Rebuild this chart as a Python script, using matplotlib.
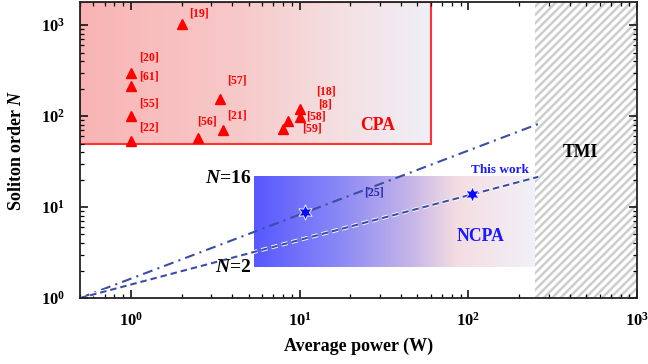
import numpy as np
import matplotlib
matplotlib.use("Agg")
import matplotlib.pyplot as plt
import matplotlib.patheffects as pe
from matplotlib.colors import LinearSegmentedColormap
from matplotlib.patches import Rectangle
from matplotlib.ticker import FuncFormatter, LogLocator

plt.rcParams['font.family'] = ['Liberation Serif', 'DejaVu Serif']
plt.rcParams['font.weight'] = 'bold'
plt.rcParams['mathtext.fontset'] = 'custom'
plt.rcParams['mathtext.rm'] = 'Liberation Serif:bold'
plt.rcParams['mathtext.bf'] = 'Liberation Serif:bold'
plt.rcParams['mathtext.it'] = 'Liberation Serif:bold:italic'
plt.rcParams['hatch.linewidth'] = 1.8

# CPA references (red triangles)
cpa_power = [2, 1, 1, 3.4, 10, 10, 8.6, 8, 1, 1, 2.5, 3.5]
cpa_order = [1030, 300, 215, 155, 120, 98, 89, 73, 100, 53, 58, 70]
cpa_refs = ['[19]', '[20]', '[61]', '[57]', '[18]', '[8]', '[58]', '[59]',
            '[55]', '[22]', '[56]', '[21]']
# NCPA results (blue stars)
ncpa_power = [10.8, 105]
ncpa_order = [8.8, 13.8]
ncpa_refs = ['[25]', 'This work']
# guide lines N=16 / N=2
line_power = [0.5, 260]
line_n16 = [1.0, 82]
line_n2 = [1.0, 21.5]
# regions
cpa_box = (0.5, 60, 50)       # x0, x1, y0 (to top)
ncpa_box = (5.4, 250, 2.2, 21.5)
tmi_start = 250

# label offsets in px (right, up)
cpa_off = [(17, 11), (18, 15), (18, 9), (16, 18), (26, 17), (26, 12),
           (28, 4), (29, 0), (18, 13), (18, 14), (9, 16), (14, 15)]
ncpa_off = [(69, 20), (28, 24)]

fig = plt.figure(figsize=(6.48, 3.64), dpi=100)
ax = fig.add_axes([80/648, 1-298/364, 557/648, 296/364])
ax.set_xscale('log')
ax.set_yscale('log')
xlim = (0.5, 1000)
ylim = (1, 1800)
ax.set_xlim(*xlim)
ax.set_ylim(*ylim)


def grad_box(x0, x1, y0, y1, stops, z):
    tr = ax.transData + ax.transAxes.inverted()
    a0 = tr.transform((x0, y0))
    a1 = tr.transform((x1, y1))
    cmap = LinearSegmentedColormap.from_list('g', stops)
    img = np.linspace(0, 1, 512)[None, :]
    ax.imshow(img, cmap=cmap, extent=[a0[0], a1[0], a0[1], a1[1]],
              transform=ax.transAxes, aspect='auto', zorder=z,
              interpolation='bilinear')


grad_box(cpa_box[0], cpa_box[1], cpa_box[2], ylim[1],
         [(0, '#f9b4b4'), (0.45, '#f7c9c9'), (0.75, '#f4e0e2'), (1, '#efeff7')], 0)
ax.add_patch(Rectangle((cpa_box[0], cpa_box[2]), cpa_box[1]-cpa_box[0],
                       ylim[1]-cpa_box[2], fill=False, ec='#ff3333', lw=1.5, zorder=1))
grad_box(*ncpa_box,
         [(0, '#5858ff'), (0.3, '#8a88f6'), (0.55, '#c4b4e8'), (0.72, '#f4dde2'), (1, '#f1f1f7')], 0)

ax.axvspan(tmi_start, xlim[1], facecolor='white', hatch='////',
           edgecolor='#cdcdcd', lw=0, zorder=0.5)
ax.set_xlim(*xlim)
ax.set_ylim(*ylim)

lc = '#3a4ea6'
ax.plot(line_power, line_n16, color=lc, lw=1.5, ls=(0, (4.8, 2.5, 1, 2.5)), zorder=2)
ax.plot(line_power, line_n2, color=lc, lw=1.5, ls=(0, (3.1, 1.9)), zorder=2,
        path_effects=[pe.withStroke(linewidth=2.8, foreground='white')])

ax.plot(cpa_power, cpa_order, ls='none', marker='^', ms=7, color='#ff0000',
        mec='#ff0000', zorder=3)
for p, n, r, (dx, dy) in zip(cpa_power, cpa_order, cpa_refs, cpa_off):
    ax.annotate(r, (p, n), xytext=(dx*0.72, dy*0.72), textcoords='offset points',
                ha='center', va='center', color='#ff0000', fontsize=8.5,
                fontweight='bold', zorder=4)

ax.plot(ncpa_power, ncpa_order, ls='none', marker=(6, 1, 0), ms=11,
        color='#0a0aff', mec='white', mew=0.6, zorder=3)
ncpa_colors = ['#2a2aa8', '#1a1aff']
for p, n, r, (dx, dy), c in zip(ncpa_power, ncpa_order, ncpa_refs, ncpa_off, ncpa_colors):
    ax.annotate(r, (p, n), xytext=(dx*0.72, dy*0.72), textcoords='offset points',
                ha='center', va='center', color=c, fontsize=8.5 if r.startswith('[') else 9.5,
                fontweight='bold', zorder=4)

ax.text(29, 78, 'CPA', color='#ff0000', fontsize=12.7, fontweight='bold',
        ha='center', va='center', zorder=4)
ax.text(118, 4.7, 'NCPA', color='#1a1aff', fontsize=12.7, fontweight='bold',
        ha='center', va='center', zorder=4)
ax.text(462, 40, 'TMI', color='black', fontsize=12.7, fontweight='bold',
        ha='center', va='center', zorder=4)
ax.text(5.15, 20.4, r'$N$=16', color='black', fontsize=14, fontweight='bold',
        ha='right', va='center', zorder=4)
ax.text(5.15, 2.15, r'$N$=2', color='black', fontsize=14, fontweight='bold',
        ha='right', va='center', zorder=4)

fmt = FuncFormatter(lambda v, p: r'$\mathbf{10^{%d}}$' % round(np.log10(v)))
for axis in (ax.xaxis, ax.yaxis):
    axis.set_major_locator(LogLocator(base=10, numticks=10))
    axis.set_minor_locator(LogLocator(base=10, subs=np.arange(2, 10), numticks=20))
    axis.set_major_formatter(fmt)
ax.tick_params(which='both', direction='in', top=True, right=True, labelsize=12)
ax.tick_params(which='major', length=6, width=1.1)
ax.tick_params(which='minor', length=3, width=0.9)
ax.tick_params(axis='x', pad=10)
ax.tick_params(axis='y', pad=11)
for s in ax.spines.values():
    s.set_linewidth(1.3)
    s.set_color('#222222')
    s.set_zorder(5)

ax.set_xlabel('Average power (W)', fontsize=13, fontweight='bold', labelpad=6)
ax.set_ylabel(r'Soliton order $N$', fontsize=13, fontweight='bold', labelpad=11)

fig.savefig('out.png', dpi=100)
